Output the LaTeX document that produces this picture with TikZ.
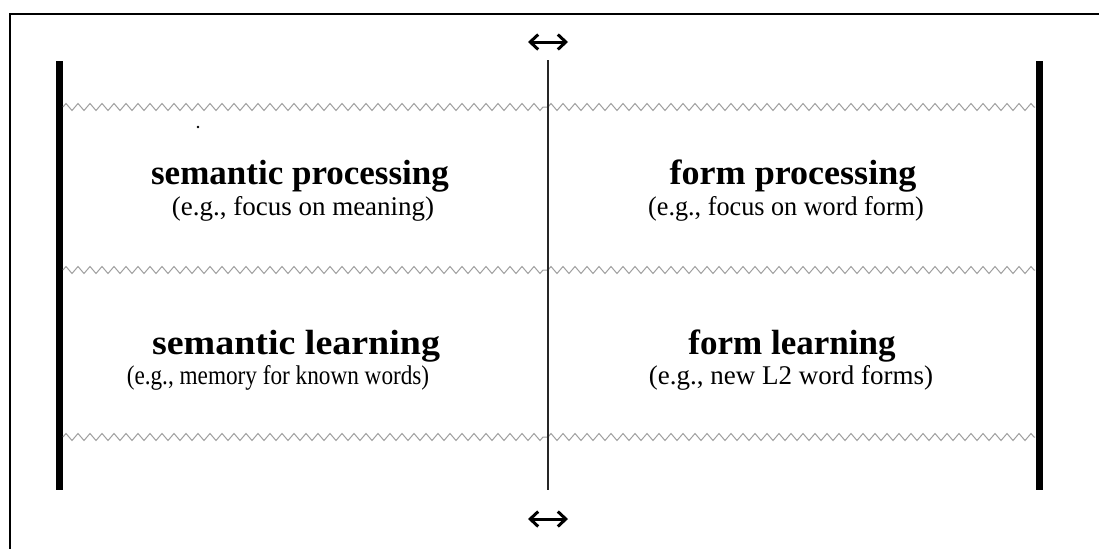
\documentclass[tikz,border=0pt]{standalone}
\usepackage{fontspec}
\setmainfont{Liberation Serif}
\usetikzlibrary{decorations.pathmorphing,arrows.meta}
\tikzset{
  frameline/.style={line width=2pt,black},
  sidebar/.style={line width=7pt,black},
  divider/.style={line width=1.3pt,black!85},
  wavy/.style={draw=black!38,line width=1pt,decorate,
    decoration={zigzag,segment length=12pt,amplitude=3.5pt}},
  twoway/.style={line width=3pt,{Straight Barb[length=8pt,width=15pt]}-{Straight Barb[length=8pt,width=15pt]}},
  title/.style={anchor=base,font=\fontsize{35}{40}\selectfont\bfseries,inner sep=0pt},
  example/.style={anchor=base,font=\fontsize{27}{31}\selectfont,inner sep=0pt}
}
\begin{document}
\begin{tikzpicture}[x=1pt,y=-1pt]
\useasboundingbox (0,0) rectangle (1099,549);
% outer frame (top and left edges only)
\draw[frameline] (1099,14) -- (10,14) -- (10,549);
% side bars
\draw[sidebar] (59,61) -- (59,490);
\draw[sidebar] (1039,61) -- (1039,490);
% wavy band boundaries
\foreach \y/\n in {107/a,270/b,437/c}{
  \coordinate (L\n) at (63,\y);
  \coordinate (M\n) at (548,\y);
  \coordinate (R\n) at (1035,\y);
  \draw[wavy] (L\n) -- (M\n);
  \draw[wavy] (M\n) -- (R\n);
}
% central divider, broken at each wavy line
\coordinate (top) at (548,60);
\coordinate (bot) at (548,490);
\draw[divider] (top) -- ([yshift=-4pt]Ma);
\draw[divider] ([yshift=4pt]Ma) -- ([yshift=-4pt]Mb);
\draw[divider] ([yshift=4pt]Mb) -- ([yshift=-4pt]Mc);
\draw[divider] ([yshift=4pt]Mc) -- (bot);
% double arrows above and below
\coordinate (ta) at (528,42); \coordinate (tb) at (568,42);
\coordinate (ba) at (528,519); \coordinate (bb) at (568,519);
\draw[twoway] (ta) -- (tb);
\draw[twoway] (ba) -- (bb);
% stray dot
\fill (198,127) circle (1.3pt);
% labels
\node[title]   (sp)  at (300,184) {semantic processing};
\node[example] (spe) at (303,215) {(e.g., focus on meaning)};
\node[title]   (fp)  at (793,184) {\scalebox{1.03}[1]{form processing}};
\node[example] (fpe) at (786,215) {\scalebox{0.97}[1]{(e.g., focus on word form)}};
\node[title]   (sl)  at (296,354) {\scalebox{1.085}[1]{semantic learning}};
\node[example] (sle) at (278,384) {\scalebox{0.86}[1]{(e.g., memory for known words)}};
\node[title]   (fl)  at (792,354) {form learning};
\node[example] (fle) at (791,384) {(e.g., new L2 word forms)};
\end{tikzpicture}
\end{document}
